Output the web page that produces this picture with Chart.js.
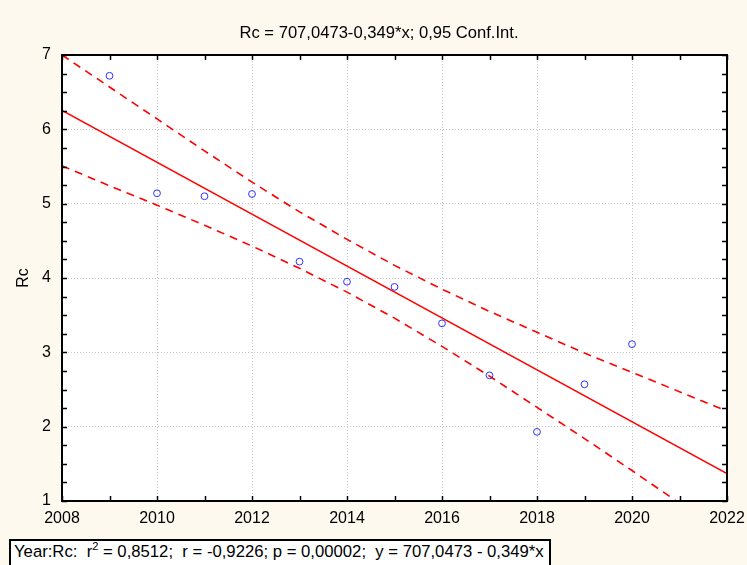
<!DOCTYPE html>
<html><head><meta charset="utf-8">
<script src="https://cdn.jsdelivr.net/npm/chart.js@4.4.1/dist/chart.umd.min.js"></script>
<style>
html,body{margin:0;padding:0;background:#FEF9EF;}
#wrap{position:relative;width:747px;height:565px;overflow:hidden;background:#FEF9EF;}
#c{position:absolute;left:0;top:0;}
#title{position:absolute;left:179px;top:23px;width:400px;text-align:center;font:16.6px "Liberation Sans",Arial,sans-serif;color:#000;line-height:20px;white-space:pre;}
#foot{position:absolute;left:9px;top:539px;width:535px;height:30px;border:2px solid #000;background:#fff;
font:16.7px "Liberation Sans",Arial,sans-serif;color:#000;white-space:pre;line-height:18px;padding:2px 0 0 3px;}
#foot sup{font-size:11px;line-height:0;}
</style></head>
<body>
<div id="wrap">
<canvas id="c" width="747" height="565"></canvas>
<div id="title"></div>
<div id="foot">Year:Rc:  r<sup>2</sup> = 0,8512;  r = -0,9226; p = 0,00002;  y = 707,0473 - 0,349*x</div>
</div>
<script>
// ---- data ----
const years = [2009, 2010, 2011, 2012, 2013, 2014, 2015, 2016, 2017, 2018, 2019, 2020];
const rcValues = [6.72, 5.14, 5.10, 5.13, 4.22, 3.95, 3.88, 3.39, 2.69, 1.93, 2.57, 3.11];
const fitYears = [2008, 2022];
const fitValues = [6.255, 1.369];
const bandYears = [2008, 2009, 2010, 2011, 2012, 2013, 2014, 2015, 2016, 2017, 2018, 2019, 2020, 2021, 2022];
const upperBand = [7.00, 6.57, 6.14, 5.71, 5.29, 4.89, 4.52, 4.17, 3.85, 3.55, 3.27, 2.99, 2.73, 2.47, 2.21];
const lowerBand = [5.51, 5.24, 4.98, 4.71, 4.43, 4.13, 3.81, 3.46, 3.08, 2.68, 2.26, 1.84, 1.41, 0.97, 0.53];
const xTickLabels = [2008, 2010, 2012, 2014, 2016, 2018, 2020, 2022];
const yTickLabels = [1, 2, 3, 4, 5, 6, 7];
const titleText = 'Rc = 707,0473-0,349*x; 0,95 Conf.Int.';
const yAxisTitle = 'Rc';

document.getElementById('title').textContent = titleText;

const FONT = '"Liberation Sans", Arial, sans-serif';
Chart.defaults.font.family = FONT;
Chart.defaults.color = '#000';

const toXY = (xs, ys) => xs.map((x, i) => ({x: x, y: ys[i]}));

const framePlugin = {
  id: 'frame',
  beforeDraw(chart) {
    const {ctx, chartArea: a} = chart;
    ctx.save();
    ctx.fillStyle = '#FEF9EF';
    ctx.fillRect(0, 0, chart.width, chart.height);
    ctx.fillStyle = '#fff';
    ctx.fillRect(a.left, a.top, a.right - a.left, a.bottom - a.top);
    ctx.restore();
  },
  afterDraw(chart) {
    const {ctx, chartArea: a, scales} = chart;
    const xs = scales.x, ys = scales.y;
    ctx.save();
    ctx.strokeStyle = '#000';
    ctx.lineWidth = 1.5;
    ctx.beginPath();
    for (let v = xs.min; v <= xs.max + 1e-9; v += 1) {
      const px = Math.round(xs.getPixelForValue(v)) + 0.5;
      const len = 5;
      ctx.moveTo(px, a.bottom); ctx.lineTo(px, a.bottom - len);
      ctx.moveTo(px, a.top); ctx.lineTo(px, a.top + len);
    }
    for (let v = ys.min; v <= ys.max + 1e-9; v += 0.25) {
      const py = Math.round(ys.getPixelForValue(v)) + 0.5;
      const len = 5;
      ctx.moveTo(a.left, py); ctx.lineTo(a.left + len, py);
      ctx.moveTo(a.right, py); ctx.lineTo(a.right - len, py);
    }
    ctx.stroke();
    ctx.lineWidth = 2;
    ctx.strokeRect(a.left, a.top, a.right - a.left, a.bottom - a.top);
    ctx.restore();
  }
};

new Chart(document.getElementById('c'), {
  type: 'scatter',
  data: {
    datasets: [
      {
        label: 'Rc',
        data: toXY(years, rcValues),
        pointStyle: 'circle',
        pointRadius: 3.4,
        pointBorderWidth: 1,
        pointBorderColor: '#3030FF',
        pointBackgroundColor: 'rgba(0,0,0,0)',
        showLine: false
      },
      {
        label: 'fit',
        type: 'line',
        data: toXY(fitYears, fitValues),
        borderColor: '#FF0000',
        borderWidth: 1.6,
        pointRadius: 0,
        fill: false
      },
      {
        label: 'upper',
        type: 'line',
        data: toXY(bandYears, upperBand),
        borderColor: '#FF0000',
        borderWidth: 1.6,
        borderDash: [8, 6],
        pointRadius: 0,
        fill: false
      },
      {
        label: 'lower',
        type: 'line',
        data: toXY(bandYears, lowerBand),
        borderColor: '#FF0000',
        borderWidth: 1.6,
        borderDash: [8, 6],
        pointRadius: 0,
        fill: false
      }
    ]
  },
  options: {
    responsive: false,
    animation: false,
    layout: {padding: {left: 0, right: 20, top: 55, bottom: 0}},
    plugins: {
      legend: {display: false},
      tooltip: {enabled: false},
      title: {display: false}
    },
    scales: {
      x: {
        type: 'linear',
        min: 2008, max: 2022,
        afterBuildTicks(s) { s.ticks = xTickLabels.map(v => ({value: v})); },
        afterFit(s) { s.height = 64; s.paddingLeft = 0; s.paddingRight = 0; },
        ticks: {
          callback: v => String(v),
          font: {size: 16, family: FONT},
          color: '#000',
          padding: 8,
          maxRotation: 0,
          autoSkip: false
        },
        grid: {color: '#C8C8C8', lineWidth: 1, drawTicks: false},
        border: {display: false, dash: [1, 2]}
      },
      y: {
        type: 'linear',
        min: 1, max: 7,
        afterBuildTicks(s) { s.ticks = yTickLabels.map(v => ({value: v})); },
        afterFit(s) { s.width = 62; s.paddingTop = 0; s.paddingBottom = 0; },
        ticks: {
          callback: v => String(v),
          font: {size: 16, family: FONT},
          color: '#000',
          padding: 11
        },
        grid: {color: '#C8C8C8', lineWidth: 1, drawTicks: false},
        border: {display: false, dash: [1, 2]},
        title: {
          display: true,
          text: yAxisTitle,
          color: '#000',
          font: {size: 16, family: FONT},
          padding: {top: 14, bottom: 0}
        }
      }
    }
  },
  plugins: [framePlugin]
});
</script>
</body></html>
